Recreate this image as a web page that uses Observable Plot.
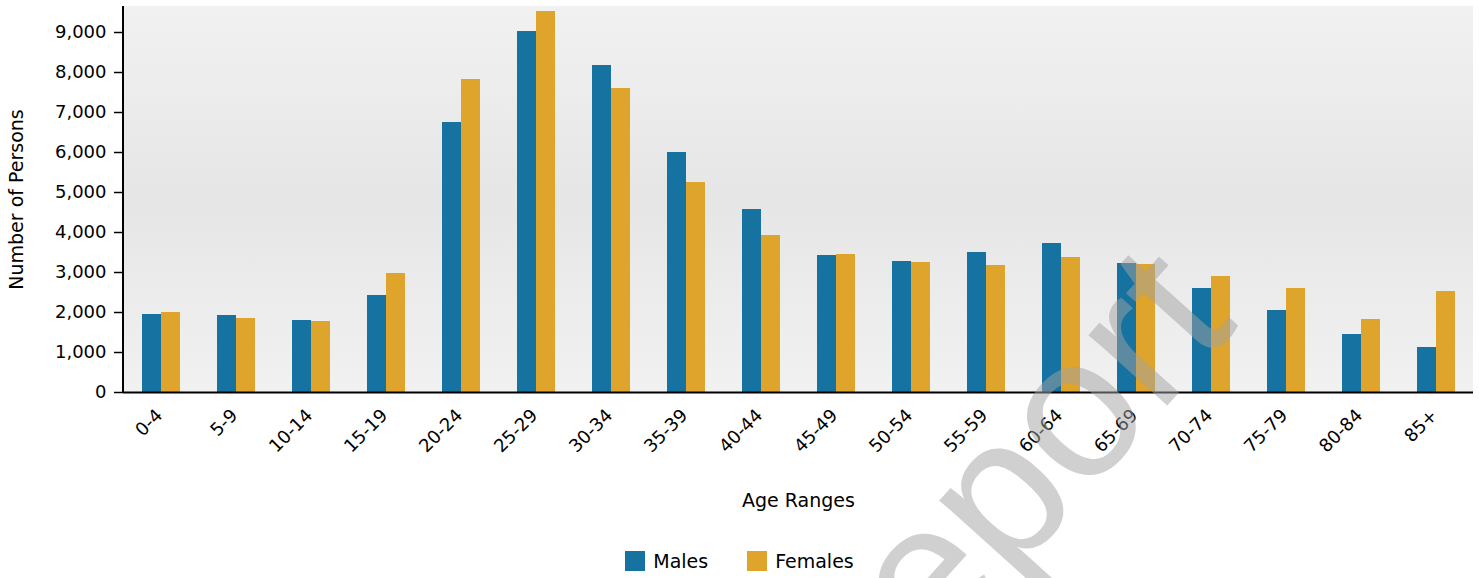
<!DOCTYPE html>
<html>
<head>
<meta charset="utf-8">
<script src="https://cdn.jsdelivr.net/npm/d3@7"></script>
<script src="https://cdn.jsdelivr.net/npm/@observablehq/plot@0.6"></script>
<style>
  html, body { margin: 0; padding: 0; background: #fff; }
  #wrap { position: relative; width: 1479px; height: 578px; overflow: hidden; font-family: "DejaVu Sans", Verdana, sans-serif; }
  #legend { position: absolute; left: 0; top: 550px; width: 1479px; display: flex; justify-content: center; align-items: center; font-size: 19px; color: #000; }
  .item { display: flex; align-items: center; margin: 0 19.5px; }
  .sw { width: 20px; height: 20px; margin-right: 8px; }
  #wm { position: absolute; left: 0; top: 0; pointer-events: none; }
</style>
</head>
<body>
<div id="wrap"></div>
<script>
const ages = ["0-4","5-9","10-14","15-19","20-24","25-29","30-34","35-39","40-44","45-49","50-54","55-59","60-64","65-69","70-74","75-79","80-84","85+"];
const males   = [1950,1925,1800,2425,6750,9025,8175,6000,4575,3425,3275,3500,3725,3225,2600,2050,1450,1125];
const females = [2000,1850,1775,2975,7825,9525,7600,5250,3925,3450,3250,3175,3375,3200,2900,2600,1825,2525];
const series = ["Males", "Females"];
const colors = ["#1572a1", "#dfa42b"];
const yTicks = [0,1000,2000,3000,4000,5000,6000,7000,8000,9000];
const xTitle = "Age Ranges";
const yTitle = "Number of Persons";
const watermark = "Report";

const rows = ages.map((a, i) => ({age: a, males: males[i], females: females[i]}));

// background gradient (render-function mark)
const background = (index, scales, values, dim) => {
  const g = d3.create("svg:g");
  const defs = g.append("defs");
  const lg = defs.append("linearGradient").attr("id", "bgGrad").attr("x1", 0).attr("y1", 0).attr("x2", 0).attr("y2", 1);
  lg.append("stop").attr("offset", "0%").attr("stop-color", "#f1f1f1");
  lg.append("stop").attr("offset", "50%").attr("stop-color", "#e6e6e6");
  lg.append("stop").attr("offset", "100%").attr("stop-color", "#f1f1f1");
  g.append("rect")
    .attr("x", dim.marginLeft).attr("y", dim.marginTop)
    .attr("width", dim.width - dim.marginLeft - dim.marginRight)
    .attr("height", dim.height - dim.marginTop - dim.marginBottom)
    .attr("fill", "url(#bgGrad)");
  return g.node();
};
// left axis line
const leftLine = (index, scales, values, dim) => {
  const l = d3.create("svg:line")
    .attr("x1", dim.marginLeft).attr("x2", dim.marginLeft)
    .attr("y1", dim.marginTop).attr("y2", dim.height - dim.marginBottom + 1)
    .attr("stroke", "#000").attr("stroke-width", 2);
  return l.node();
};

const chart = Plot.plot({
  width: 1479,
  height: 520,
  marginTop: 6,
  marginBottom: 128,
  marginLeft: 123,
  marginRight: 6,
  style: {fontFamily: "DejaVu Sans, Verdana, sans-serif", fontSize: "18px", color: "#000", background: "transparent", overflow: "visible"},
  x: {domain: ages, paddingInner: 0.494, paddingOuter: 0.247, axis: null},
  y: {domain: [0, 9650], axis: null},
  marks: [
    background,
    Plot.barY(rows, {x: "age", y: "males", fill: colors[0], insetLeft: 0, insetRight: 19}),
    Plot.barY(rows, {x: "age", y: "females", fill: colors[1], insetLeft: 19, insetRight: 0}),
    Plot.axisY({ticks: yTicks, tickFormat: d3.format(","), tickSize: 9, tickPadding: 8, strokeWidth: 1.5, fontSize: 18}),
    Plot.ruleY([0], {stroke: "#000", strokeWidth: 2}),
    leftLine,
    Plot.text(ages, {x: d => d, frameAnchor: "bottom", rotate: -45, textAnchor: "end", dx: 2, dy: 24, fontSize: 18, fill: "#000"}),
    Plot.text([xTitle], {frameAnchor: "bottom", dy: 114, textAnchor: "middle", fontSize: 19, fill: "#000"}),
    Plot.text([yTitle], {frameAnchor: "left", dx: -107, rotate: -90, textAnchor: "middle", fontSize: 19, fill: "#000"})
  ]
});

const wrap = document.getElementById("wrap");
wrap.appendChild(chart);

// legend
const legend = document.createElement("div");
legend.id = "legend";
series.forEach((s, i) => {
  const item = document.createElement("div");
  item.className = "item";
  const sw = document.createElement("div");
  sw.className = "sw";
  sw.style.background = colors[i];
  const lab = document.createElement("span");
  lab.textContent = s;
  item.appendChild(sw);
  item.appendChild(lab);
  legend.appendChild(item);
});
wrap.appendChild(legend);

// watermark overlay
const wm = d3.select(wrap).append("svg").attr("id", "wm").attr("width", 1479).attr("height", 578);
wm.append("text")
  .attr("transform", "translate(838,771) rotate(-48)")
  .attr("font-family", "Liberation Sans, Arial, sans-serif")
  .attr("font-size", 200)
  .attr("fill", "rgb(161,161,161)")
  .attr("fill-opacity", 0.5)
  .text(watermark);
</script>
</body>
</html>
